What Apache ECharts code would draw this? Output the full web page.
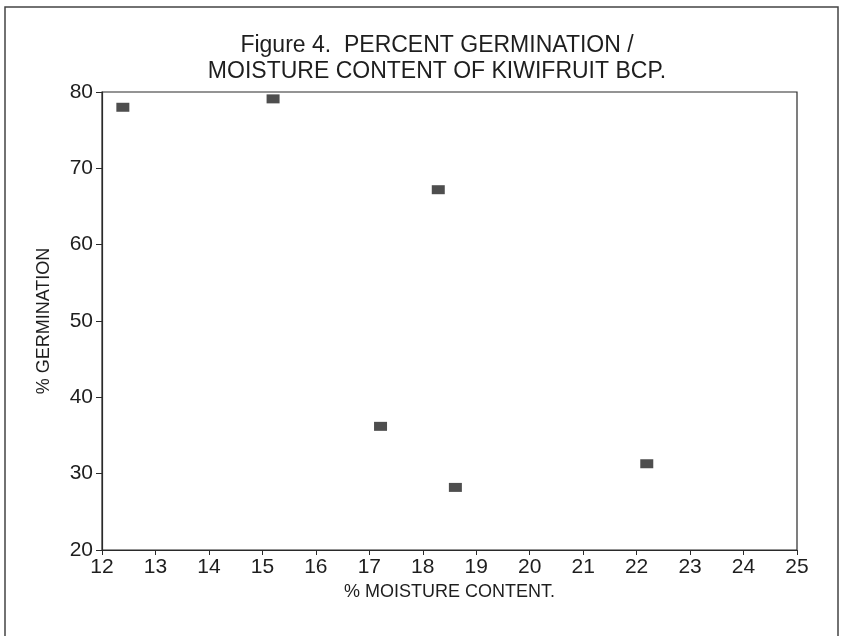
<!DOCTYPE html>
<html>
<head>
<meta charset="utf-8">
<script src="https://cdn.jsdelivr.net/npm/echarts@6/dist/echarts.min.js"></script>
<style>
  html, body { margin: 0; padding: 0; background: #fff; }
  #chart { width: 844px; height: 636px; }
</style>
</head>
<body>
<div id="chart"></div>
<script>
// % moisture content vs % germination
var moisture = [12.39, 15.2, 18.29, 17.21, 18.61, 22.19];
var germination = [78.0, 79.1, 67.2, 36.2, 28.2, 31.3];

var points = [];
for (var i = 0; i < moisture.length; i++) {
	points.push([moisture[i], germination[i]]);
}

var textColor = '#1e1e1e';
var myChart = echarts.init(document.getElementById('chart'));
var option = {
	backgroundColor: '#fff',
	animation: false,
	title: {
		text: 'Figure 4.  PERCENT GERMINATION /\nMOISTURE CONTENT OF KIWIFRUIT BCP.',
		left: 432,
		top: 28,
		textAlign: 'center',
		textStyle: {
			fontFamily: 'Liberation Sans',
			fontWeight: 'normal',
			fontSize: 23,
			lineHeight: 26,
			color: textColor
		}
	},
	graphic: [{
		type: 'rect',
		shape: { x: 5, y: 7, width: 833, height: 640 },
		style: { fill: 'none', stroke: '#444', lineWidth: 1.5 },
		silent: true
	}],
	grid: { left: 102, right: 47, top: 92, bottom: 86, show: true, borderColor: '#2a2a2a', borderWidth: 1.2 },
	xAxis: {
		type: 'value',
		min: 12, max: 25, interval: 1,
		name: '% MOISTURE CONTENT.',
		nameLocation: 'middle',
		nameGap: 33,
		nameTextStyle: { fontFamily: 'Liberation Sans', fontSize: 18, color: textColor },
		axisLine: { lineStyle: { color: '#2a2a2a', width: 1.2 } },
		axisTick: { length: 5, lineStyle: { color: '#2a2a2a' } },
		axisLabel: { fontFamily: 'Liberation Sans', fontSize: 21, color: textColor, margin: 7 },
		splitLine: { show: false }
	},
	yAxis: {
		type: 'value',
		min: 20, max: 80, interval: 10,
		name: '% GERMINATION',
		nameLocation: 'middle',
		nameGap: 49,
		nameTextStyle: { fontFamily: 'Liberation Sans', fontSize: 18, color: textColor },
		axisLine: { show: true, lineStyle: { color: '#2a2a2a', width: 1.2 } },
		axisTick: { show: true, length: 6, lineStyle: { color: '#2a2a2a' } },
		axisLabel: { fontFamily: 'Liberation Sans', fontSize: 21, color: textColor, margin: 9 },
		splitLine: { show: false }
	},
	series: [{
		type: 'scatter',
		symbol: 'rect',
		symbolSize: [13, 9],
		itemStyle: { color: '#222' },
		data: points
	}]
};
myChart.setOption(option);
</script>
</body>
</html>
